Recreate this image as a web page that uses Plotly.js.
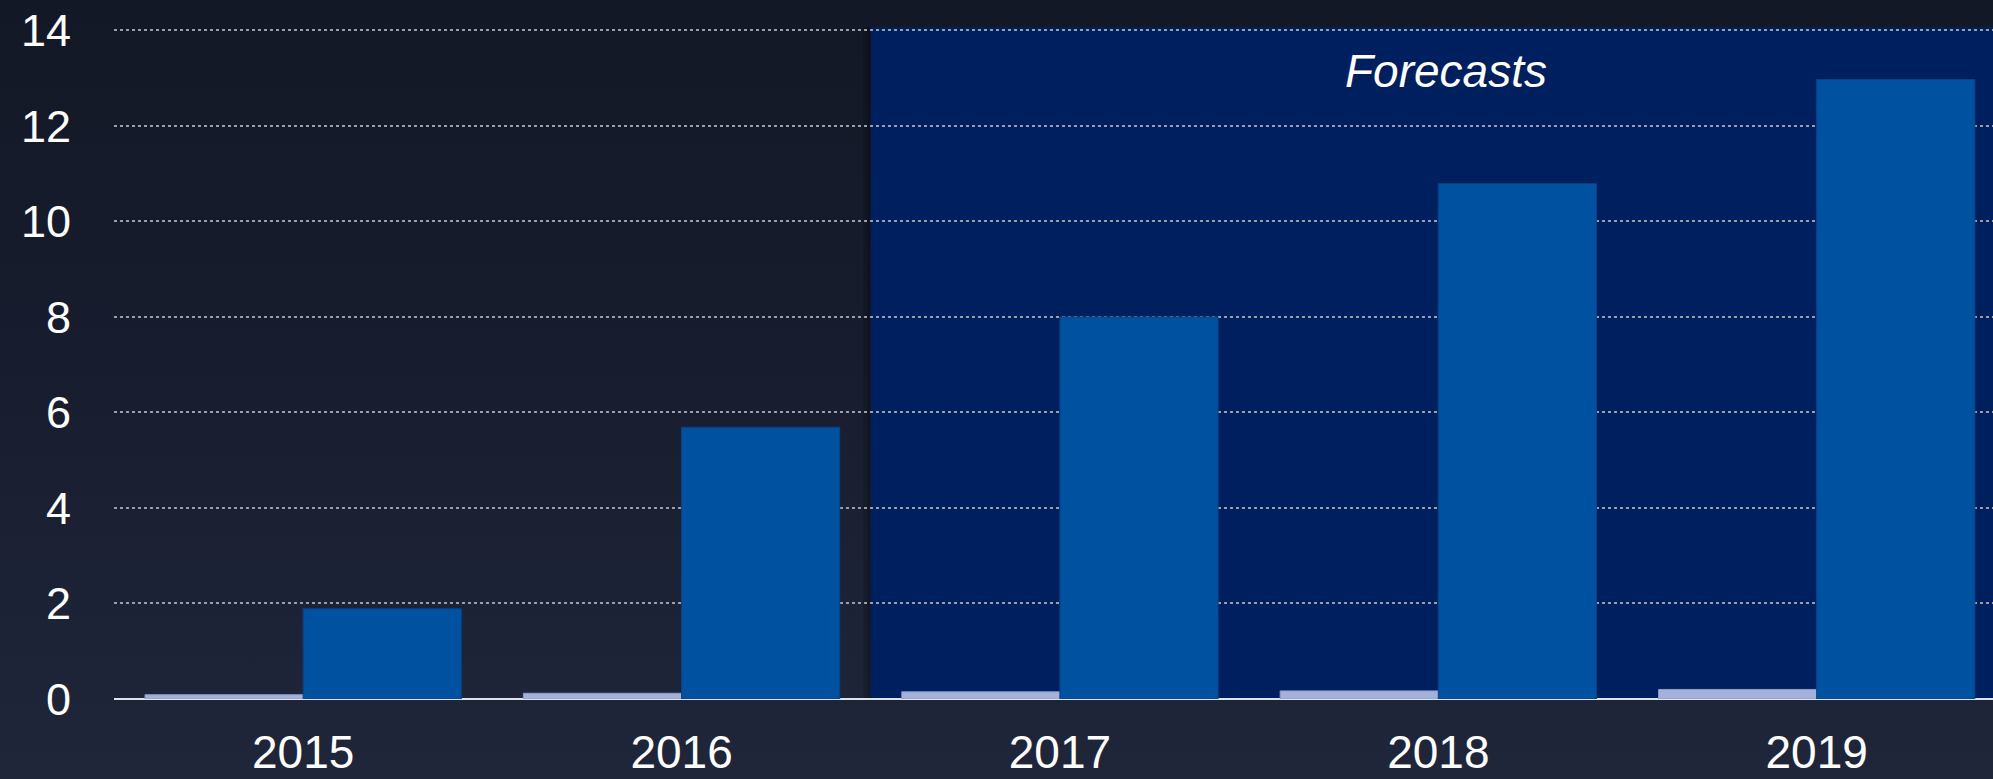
<!DOCTYPE html>
<html>
<head>
<meta charset="utf-8">
<script src="https://cdn.plot.ly/plotly-3.0.1.min.js"></script>
<style>
html,body{margin:0;padding:0;overflow:hidden;width:1993px;height:779px;}
body{background:linear-gradient(180deg,#131826 0%,#171d2e 45%,#1d2336 80%,#20263a 100%);}
#chart{width:1993px;height:779px;}
</style>
</head>
<body>
<div id="chart"></div>
<script>
const years = ['2015','2016','2017','2018','2019'];
const seriesLight = [0.09, 0.12, 0.15, 0.17, 0.20];
const seriesDark = [1.89, 5.69, 8.0, 10.79, 12.97];
const yTicks = [0, 2, 4, 6, 8, 10, 12, 14];
const forecastLabel = 'Forecasts';
const forecastStartIndex = 2;

const font = 'Liberation Sans, Arial, sans-serif';

const traces = [
  {type:'bar', x: years, y: seriesLight, marker:{color:'#a3b1db', line:{color:'#8a9acb', width:1}}, hoverinfo:'x+y'},
  {type:'bar', x: years, y: seriesDark, marker:{color:'#00519f', line:{color:'#0a4384', width:1}}, hoverinfo:'x+y'}
];

const layout = {
  width: 1993, height: 779,
  margin: {l: 113.5, r: 0, t: 27, b: 80, pad: 0},
  paper_bgcolor: 'rgba(0,0,0,0)',
  plot_bgcolor: 'rgba(0,0,0,0)',
  showlegend: false,
  barmode: 'group',
  bargap: 0.164,
  bargroupgap: 0,
  font: {family: font, color: '#ffffff'},
  xaxis: {
    type: 'category',
    range: [-0.5, 4.466],
    showgrid: false,
    showline: false,
    ticks: '',
    ticklabelstandoff: 22,
    tickfont: {family: font, size: 46, color: '#ffffff'},
    fixedrange: true
  },
  yaxis: {
    range: [0, 14.07],
    tickvals: yTicks,
    ticktext: yTicks.map(String),
    showgrid: true,
    gridcolor: '#9a9ea8',
    griddash: 'dot',
    gridwidth: 2,
    zeroline: true,
    zerolinecolor: '#dfe3ea',
    zerolinewidth: 2,
    showline: false,
    ticks: '',
    ticklabelstandoff: 42,
    tickfont: {family: font, size: 45, color: '#ffffff'},
    fixedrange: true
  },
  shapes: [
    {type:'rect', xref:'x', yref:'y', x0: forecastStartIndex - 0.5, x1: 6, y0: 0, y1: 14.07,
     fillcolor:'#001f5e', line:{width:0}, layer:'below'},
    {type:'rect', xref:'x', yref:'y', x0: forecastStartIndex - 0.52, x1: forecastStartIndex - 0.5, y0: 0, y1: 14.07,
     fillcolor:'rgba(0,0,0,0.15)', line:{width:0}, layer:'below'},
    {type:'rect', xref:'x', yref:'y', x0: forecastStartIndex - 0.509, x1: forecastStartIndex - 0.5, y0: 0, y1: 14.07,
     fillcolor:'rgba(0,0,0,0.15)', line:{width:0}, layer:'below'}
  ],
  annotations: [
    {xref:'x', yref:'y', x: 3.02, y: 13.15, text: '<i>' + forecastLabel + '</i>', showarrow:false,
     xanchor:'center', yanchor:'middle', font:{family: font, size: 46, color:'#ffffff'}}
  ]
};

Plotly.newPlot('chart', traces, layout, {displayModeBar:false, staticPlot:true});
</script>
</body>
</html>
